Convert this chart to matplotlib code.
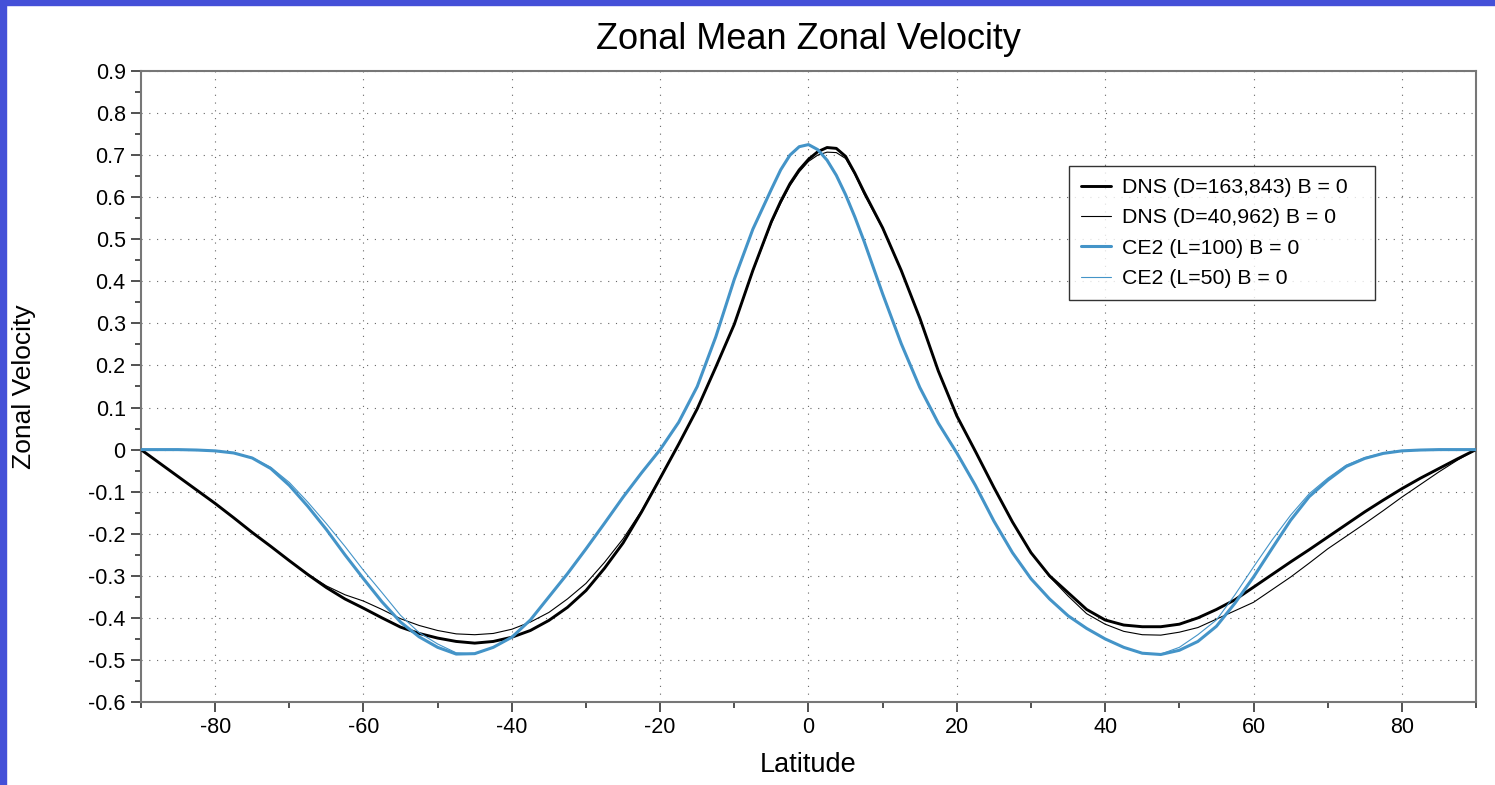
import matplotlib
matplotlib.use("Agg")
import matplotlib.pyplot as plt
from matplotlib.patches import Rectangle
from matplotlib.ticker import MultipleLocator, FuncFormatter

plt.rcParams["font.family"] = ["Liberation Sans", "DejaVu Sans"]
plt.rcParams["axes.unicode_minus"] = False

# latitude samples shared by all four curves (finer around the jet peak)
latitude = [
    -90, -87.5, -85, -82.5, -80, -77.5, -75, -72.5, -70, -67.5, -65, -62.5,
    -60, -57.5, -55, -52.5, -50, -47.5, -45, -42.5, -40, -37.5, -35, -32.5,
    -30, -27.5, -25, -22.5, -20, -17.5, -15, -12.5, -10, -7.5,
    -5, -3.75, -2.5, -1.25, 0, 1.25, 2.5, 3.75, 5, 6.25, 7.5,
    10, 12.5, 15, 17.5, 20, 22.5, 25, 27.5,
    30, 32.5, 35, 37.5, 40, 42.5, 45, 47.5, 50, 52.5, 55, 57.5,
    60, 62.5, 65, 67.5, 70, 72.5, 75, 77.5, 80, 82.5, 85, 87.5, 90,
]

dns_163843 = [
    0.0, -0.032, -0.064, -0.096, -0.128, -0.162, -0.197, -0.230, -0.264, -0.297, -0.328, -0.355,
    -0.377, -0.400, -0.422, -0.437, -0.448, -0.456, -0.460, -0.456, -0.446, -0.430, -0.406, -0.375,
    -0.335, -0.282, -0.222, -0.148, -0.068, 0.013, 0.097, 0.196, 0.298, 0.426,
    0.542, 0.590, 0.632, 0.665, 0.690, 0.708, 0.718, 0.716, 0.697, 0.657, 0.612,
    0.527, 0.426, 0.313, 0.187, 0.080, -0.004, -0.090, -0.172,
    -0.245, -0.300, -0.340, -0.380, -0.405, -0.417, -0.421, -0.421, -0.415, -0.400, -0.380, -0.357,
    -0.327, -0.297, -0.267, -0.238, -0.208, -0.178, -0.148, -0.120, -0.093, -0.068, -0.045, -0.022, 0.0,
]

dns_40962 = [
    0.0, -0.032, -0.064, -0.096, -0.128, -0.162, -0.197, -0.230, -0.264, -0.296, -0.324, -0.345,
    -0.360, -0.380, -0.402, -0.418, -0.430, -0.438, -0.440, -0.437, -0.427, -0.410, -0.387, -0.355,
    -0.318, -0.268, -0.212, -0.145, -0.066, 0.013, 0.097, 0.196, 0.298, 0.424,
    0.538, 0.585, 0.627, 0.660, 0.685, 0.700, 0.707, 0.706, 0.692, 0.654, 0.607,
    0.525, 0.425, 0.313, 0.187, 0.080, -0.004, -0.090, -0.172,
    -0.245, -0.302, -0.348, -0.390, -0.415, -0.432, -0.440, -0.441, -0.434, -0.423, -0.403, -0.383,
    -0.363, -0.333, -0.303, -0.270, -0.236, -0.206, -0.176, -0.145, -0.113, -0.083, -0.053, -0.025, 0.0,
]

ce2_100 = [
    0.0, 0.0, 0.0, -0.001, -0.003, -0.008, -0.020, -0.045, -0.085, -0.135, -0.190, -0.250,
    -0.307, -0.362, -0.410, -0.445, -0.470, -0.486, -0.485, -0.470, -0.446, -0.405, -0.350, -0.295,
    -0.236, -0.175, -0.113, -0.055, 0.0, 0.065, 0.150, 0.268, 0.405, 0.524,
    0.619, 0.665, 0.700, 0.720, 0.725, 0.713, 0.688, 0.652, 0.606, 0.553, 0.495,
    0.370, 0.252, 0.148, 0.063, -0.008, -0.085, -0.170, -0.245,
    -0.307, -0.355, -0.395, -0.425, -0.450, -0.470, -0.484, -0.487, -0.477, -0.456, -0.420, -0.365,
    -0.303, -0.235, -0.168, -0.112, -0.073, -0.040, -0.021, -0.009, -0.003, -0.001, 0.0, 0.0, 0.0,
]

ce2_50 = [
    0.0, 0.0, 0.0, -0.001, -0.003, -0.008, -0.019, -0.042, -0.078, -0.125, -0.176, -0.230,
    -0.287, -0.340, -0.394, -0.435, -0.462, -0.483, -0.486, -0.470, -0.446, -0.405, -0.350, -0.295,
    -0.236, -0.175, -0.113, -0.055, 0.0, 0.065, 0.150, 0.268, 0.405, 0.524,
    0.619, 0.665, 0.700, 0.720, 0.725, 0.713, 0.688, 0.652, 0.606, 0.553, 0.495,
    0.370, 0.252, 0.148, 0.063, -0.008, -0.085, -0.170, -0.245,
    -0.307, -0.355, -0.395, -0.425, -0.450, -0.470, -0.484, -0.486, -0.470, -0.440, -0.405, -0.345,
    -0.279, -0.215, -0.156, -0.105, -0.068, -0.037, -0.019, -0.008, -0.003, -0.001, 0.0, 0.0, 0.0,
]

blue = "#4494c8"

fig = plt.figure(figsize=(14.95, 7.85), dpi=100)
ax = fig.add_axes([0.0943, 0.1057, 0.893, 0.8039])

line_kw = dict(solid_joinstyle="round", solid_capstyle="round")
ax.plot(latitude, dns_163843, color="black", lw=2.1, label="DNS (D=163,843) B = 0", zorder=4, **line_kw)
ax.plot(latitude, dns_40962, color="black", lw=0.8, label="DNS (D=40,962) B = 0", zorder=3, **line_kw)
ax.plot(latitude, ce2_100, color=blue, lw=2.2, label="CE2 (L=100) B = 0", zorder=5, **line_kw)
ax.plot(latitude, ce2_50, color=blue, lw=0.8, label="CE2 (L=50) B = 0", zorder=5, **line_kw)

ax.set_xlim(-90, 90)
ax.set_ylim(-0.6, 0.9)
ax.xaxis.set_major_locator(MultipleLocator(20))
ax.xaxis.set_minor_locator(MultipleLocator(10))
ax.yaxis.set_major_locator(MultipleLocator(0.1))
ax.yaxis.set_minor_locator(MultipleLocator(0.05))
ax.yaxis.set_major_formatter(FuncFormatter(lambda v, p: "0" if abs(v) < 1e-9 else f"{v:.1f}"))
ax.xaxis.set_major_formatter(FuncFormatter(lambda v, p: f"{v:.0f}"))

ax.grid(True, which="major", linestyle=(0, (1, 6)), color="#666666", lw=0.8)
ax.tick_params(which="major", direction="out", length=7, width=1.2, color="#333333",
               labelsize=15.5, pad=4)
ax.tick_params(which="minor", direction="out", length=4, width=1.2, color="#333333")
for spine in ax.spines.values():
    spine.set_color("#777777")
    spine.set_linewidth(1.5)

ax.set_title("Zonal Mean Zonal Velocity", fontsize=26, pad=16)
ax.set_xlabel("Latitude", fontsize=19.5)
ax.set_ylabel("Zonal Velocity", fontsize=19)
ax.xaxis.set_label_coords(0.5, -0.079)
ax.yaxis.set_label_coords(-0.079, 0.5)

leg = ax.legend(loc="upper left", bbox_to_anchor=(0.695, 0.5, 0.2292, 0.349), mode="expand",
                fontsize=15.3, frameon=True, fancybox=False, borderpad=0.55,
                handlelength=1.45, labelspacing=0.54, handletextpad=0.5, borderaxespad=0)
leg.get_frame().set_edgecolor("black")
leg.get_frame().set_linewidth(1.0)

# blue window frame along the top and left edges
fig.patches.append(Rectangle((0, 1 - 5 / 785), 1, 5 / 785, transform=fig.transFigure,
                             color="#4450d8", zorder=10))
fig.patches.append(Rectangle((0, 0), 6 / 1495, 1, transform=fig.transFigure,
                             color="#4450d8", zorder=10))

fig.savefig("out.png", dpi=100)
